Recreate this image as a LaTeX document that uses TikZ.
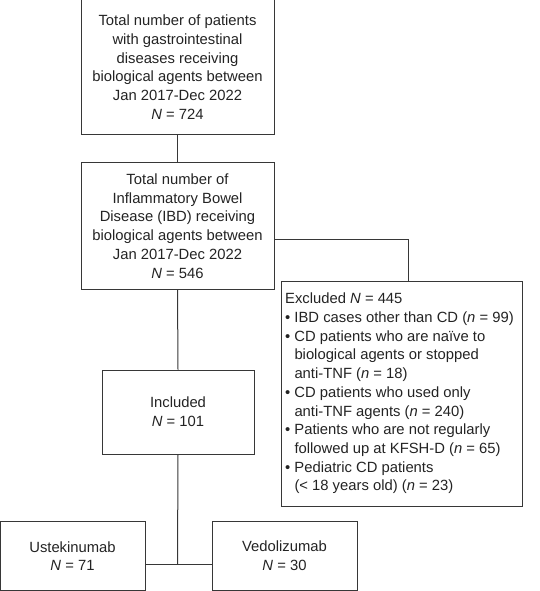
\documentclass[tikz,border=0pt]{standalone}
\usepackage{fontspec}
\setmainfont{Liberation Sans}
\definecolor{lc}{RGB}{55,55,55}
\definecolor{tc}{RGB}{35,35,35}
\begin{document}
\begin{tikzpicture}[x=1pt,y=-1pt,
  box/.style={draw=lc,line width=1pt,text=tc,align=center,inner sep=0pt,
    font=\fontsize{14.8}{18.7}\selectfont},
  conn/.style={draw=lc,line width=1pt}]
\useasboundingbox (0,0) rectangle (540,591);
\node[box,minimum width=193pt,minimum height=134pt] (b1) at (177.5,67)
  {Total number of patients\\with gastrointestinal\\diseases receiving\\biological agents between\\Jan 2017-Dec 2022\\\textit{N} = 724};
\node[box,minimum width=193pt,minimum height=127pt] (b2) at (177.5,226)
  {Total number of\\Inflammatory Bowel\\Disease (IBD) receiving\\biological agents between\\Jan 2017-Dec 2022\\\textit{N} = 546};
\node[box,minimum width=152pt,minimum height=84pt] (inc) at (178,412)
  {Included\\\textit{N} = 101};
\node[box,minimum width=145pt,minimum height=69pt] (ust) at (72.5,556)
  {Ustekinumab\\\textit{N} = 71};
\node[box,minimum width=145pt,minimum height=69pt] (ved) at (284.5,556)
  {Vedolizumab\\\textit{N} = 30};
\node[box,minimum width=241pt,minimum height=225pt] (exc) at (401.5,393.5) {};
\node[text=tc,align=left,inner sep=0pt,anchor=west,
  font=\fontsize{14.8}{18.7}\selectfont] (exct) at ([xshift=4.5pt]exc.west)
  {Excluded \textit{N} = 445\\
   \makebox[9.3pt][l]{•}IBD cases other than CD (\textit{n} = 99)\\
   \makebox[9.3pt][l]{•}CD patients who are naïve to\\
   \hspace*{9.3pt}biological agents or stopped\\
   \hspace*{9.3pt}anti-TNF (\textit{n} = 18)\\
   \makebox[9.3pt][l]{•}CD patients who used only\\
   \hspace*{9.3pt}anti-TNF agents (\textit{n} = 240)\\
   \makebox[9.3pt][l]{•}Patients who are not regularly\\
   \hspace*{9.3pt}followed up at KFSH-D (\textit{n} = 65)\\
   \makebox[9.3pt][l]{•}Pediatric CD patients\\
   \hspace*{9.3pt}(< 18 years old) (\textit{n} = 23)};
\coordinate (c1) at (408.5,239);
\coordinate (c2) at (177.5,564);
\draw[conn] (b1.south) -- (b2.north);
\draw[conn] (b2.south) -- (inc.north);
\draw[conn] (b2.east |- c1) -- (c1) -- (c1 |- exc.north);
\draw[conn] (inc.south) -- (c2);
\draw[conn] (ust.east |- c2) -- (ved.west |- c2);
\end{tikzpicture}
\end{document}
